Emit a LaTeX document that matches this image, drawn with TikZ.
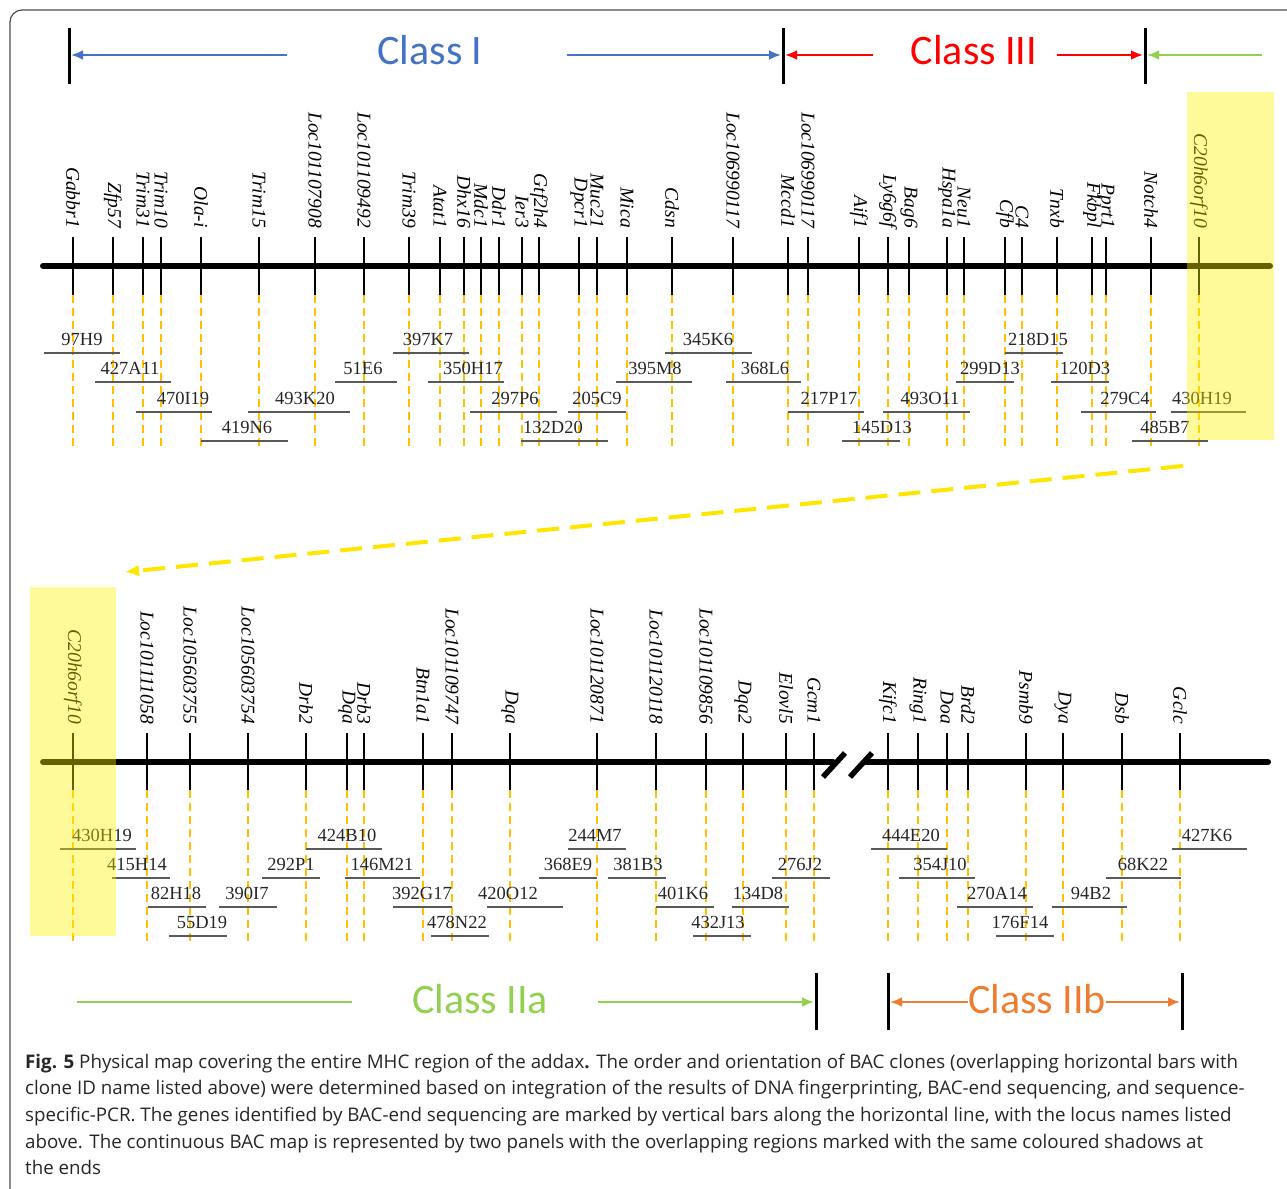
\documentclass[tikz,border=0pt]{standalone}
\usepackage{fontspec}
\setmainfont{Liberation Serif}
\newfontfamily\capfont{Open Sans}
\newfontfamily\classfont{Carlito}
\usetikzlibrary{arrows.meta}

\definecolor{clsblue}{RGB}{68,114,196}
\definecolor{clsred}{RGB}{255,0,0}
\definecolor{clsgreen}{RGB}{146,208,80}
\definecolor{clsorange}{RGB}{237,125,49}
\definecolor{guideorange}{RGB}{255,192,0}
\definecolor{bargray}{RGB}{89,89,89}
\definecolor{linkyellow}{RGB}{255,230,0}

\begin{document}
\begin{tikzpicture}[x=1pt,y=-1pt,
	gene/.style={rotate=-90,anchor=east,inner sep=0pt,font=\fontsize{19.5}{20}\selectfont\itshape},
	clonelbl/.style={anchor=base,inner sep=0pt,font=\fontsize{18.5}{20}\selectfont,text=black!85},
	tick/.style={line width=2.5pt},
	guide/.style={guideorange,line width=2pt,dash pattern=on 8pt off 5pt},
	bacbar/.style={bargray,line width=2pt},
	chrom/.style={line width=6pt,line cap=round},
	classbar/.style={line width=3pt},
	classarrow/.style={line width=2.5pt,-{Latex[length=12pt,width=10pt]}},
	classtext/.style={font=\classfont\fontsize{42}{44}\selectfont,inner sep=0pt},
	shade/.style={fill=yellow,opacity=0.4},
	captext/.style={anchor=base west,inner sep=0pt,font=\capfont\fontsize{18.75}{20}\selectfont,text=black!85}]
	\useasboundingbox (0,0) rectangle (1287,1188);
	\draw[black!70,line width=1.2pt,rounded corners=12pt] (10,1210) -- (10,10) -- (1310,10);

	% top panel: class header
	\draw[classbar] (69,28) -- (69,84);
	\draw[classbar] (783,28) -- (783,84);
	\draw[classbar] (1145,28) -- (1145,84);
	\node[classtext,text=clsblue] (c1) at (430,50) {Class I};
	\node[classtext,text=clsred] (c3) at (974,50) {Class III};
	\draw[classarrow,clsblue] (287,55) -- (71,55);
	\draw[classarrow,clsblue] (567,55) -- (781,55);
	\draw[classarrow,clsred] (873,55) -- (785,55);
	\draw[classarrow,clsred] (1057,55) -- (1143,55);
	\draw[classarrow,clsgreen] (1262,55) -- (1147,55);

	% top panel: genes
	\draw[chrom] (43,266) -- (1270,266);
	\foreach \x/\g in {73/Gabbr1,113/Zfp57,143/Trim31,161/Trim10,201/Ola-i,259/Trim15,
		315/Loc101107908,364/Loc101109492,409/Trim39,440/Atat1,464/Dhx16,481/Mdc1,
		499/Ddr1,522/Ier3,539/Gtf2h4,579/Dpcr1,597/Muc21,627/Mica,672/Cdsn,
		733/Loc106990117,788/Mccd1,808/Loc106990117,859/Aif1,888/Ly6g6f,909/Bag6,
		947/Hspa1a,964/Neu1,1005/Cfb,1022/C4,1057/Tnxb,1092/Fkbpl,1106/Pprt1,
		1151/Notch4,1199/C20h6orf10}{
		\node[gene] (top\x) at (\x,228) {\g};
		\draw[tick] (\x,237) -- (\x,295);
		\draw[guide] (\x,295) -- (\x,447);
	}

	% top panel: BAC clones
	\foreach \a/\b/\y/\l/\c in {44/120/353/82/97H9,95/171/382/130/427A11,136/212/412/183/470I19,
		201/288/441/247/419N6,248/350/412/305/493K20,335/397/382/363/51E6,393/469/353/428/397K7,
		428/504/382/473/350H17,470/557/412/515/297P6,521/608/441/553/132D20,568/626/412/597/205C9,
		616/692/382/655/395M8,665/752/353/708/345K6,726/801/382/765/368L6,788/864/412/829/217P17,
		842/900/441/882/145D13,883/970/412/930/493O11,956/1014/382/990/299D13,
		1005/1063/353/1038/218D15,1051/1109/382/1085/120D3,1081/1156/412/1125/279C4,
		1171/1246/412/1202/430H19,1132/1208/441/1165/485B7}{
		\draw[bacbar] (\a,\y) -- (\b,\y);
		\node[clonelbl] (bac\c) at (\l,\y-8) {\c};
	}
	\fill[shade] (1187,92) rectangle (1274,440);

	% link between the panels
	\draw[linkyellow,line width=4pt,dash pattern=on 22pt off 11pt,-{Latex[length=14pt,width=12pt]}]
		(1183,466) -- (125,572);

	% bottom panel: genes
	\draw[chrom] (43,762) -- (833,762);
	\draw[chrom] (866,762) -- (1268,762);
	\draw[line width=5.5pt] (823,777) -- (845,753);
	\draw[line width=5.5pt] (850,777) -- (872,753);
	\foreach \x/\g in {73/C20h6orf10,147/Loc101111058,190/Loc105603755,248/Loc105603754,
		306/Drb2,347/Dqa,364/Drb3,423/Btn1a1,452/Loc101109747,510/Dqa,597/Loc101120871,
		656/Loc101120118,706/Loc101109856,743/Dqa2,786/Elovl5,814/Gcm1,888/Kifc1,
		918/Ring1,947/Doa,968/Brd2,1026/Psmb9,1063/Dya,1122/Dsb,1180/Gclc}{
		\node[gene] (bot\x) at (\x,724) {\g};
		\draw[tick] (\x,733) -- (\x,790);
		\draw[guide] (\x,790) -- (\x,944);
	}

	% bottom panel: BAC clones
	\foreach \a/\b/\y/\l/\c in {60/136/849/102/430H19,112/170/878/137/415H14,148/206/907/176/82H18,
		169/227/936/202/55D19,219/277/907/247/390I7,262/320/878/291/292P1,306/382/849/347/424B10,
		345/420/878/382/146M21,393/452/907/422/392G17,431/489/936/457/478N22,487/563/907/508/420O12,
		568/626/849/595/244M7,539/597/878/568/368E9,608/666/878/638/381B3,656/714/907/683/401K6,
		693/751/936/718/432J13,732/789/907/758/134D8,772/830/878/800/276J2,871/947/849/911/444E20,
		899/975/878/940/354J10,957/1033/907/997/270A14,996/1054/936/1020/176F14,
		1052/1127/907/1091/94B2,1106/1181/878/1143/68K22,1172/1247/849/1207/427K6}{
		\draw[bacbar] (\a,\y) -- (\b,\y);
		\node[clonelbl] (bac\c b) at (\l,\y-8) {\c};
	}
	\fill[shade] (30,587) rectangle (116,936);

	% bottom panel: class header
	\draw[classbar] (816,973) -- (816,1030);
	\draw[classbar] (888,973) -- (888,1030);
	\draw[classbar] (1182,973) -- (1182,1030);
	\node[classtext,text=clsgreen] (c2a) at (480,999) {Class IIa};
	\node[classtext,text=clsorange] (c2b) at (1037,999) {Class IIb};
	\draw[clsgreen,line width=2.5pt] (77,1002) -- (352,1002);
	\draw[classarrow,clsgreen] (598,1002) -- (814,1002);
	\draw[classarrow,clsorange] (c2b.west) ++(0,3) -- (890,1002);
	\draw[classarrow,clsorange] (c2b.east) ++(0,3) -- (1180,1002);

	% caption
	\node[captext] (cap1) at (25,1068) {\textbf{Fig. 5} Physical map covering the entire MHC region of the addax\textbf{.} The order and orientation of BAC clones (overlapping horizontal bars with};
	\node[captext] (cap2) at (25,1094.5) {clone ID name listed above) were determined based on integration of the results of DNA fingerprinting, BAC-end sequencing, and sequence-};
	\node[captext] (cap3) at (25,1121) {specific-PCR. The genes identified by BAC-end sequencing are marked by vertical bars along the horizontal line, with the locus names listed};
	\node[captext] (cap4) at (25,1148) {above. The continuous BAC map is represented by two panels with the overlapping regions marked with the same coloured shadows at};
	\node[captext] (cap5) at (25,1174) {the ends};
\end{tikzpicture}
\end{document}
